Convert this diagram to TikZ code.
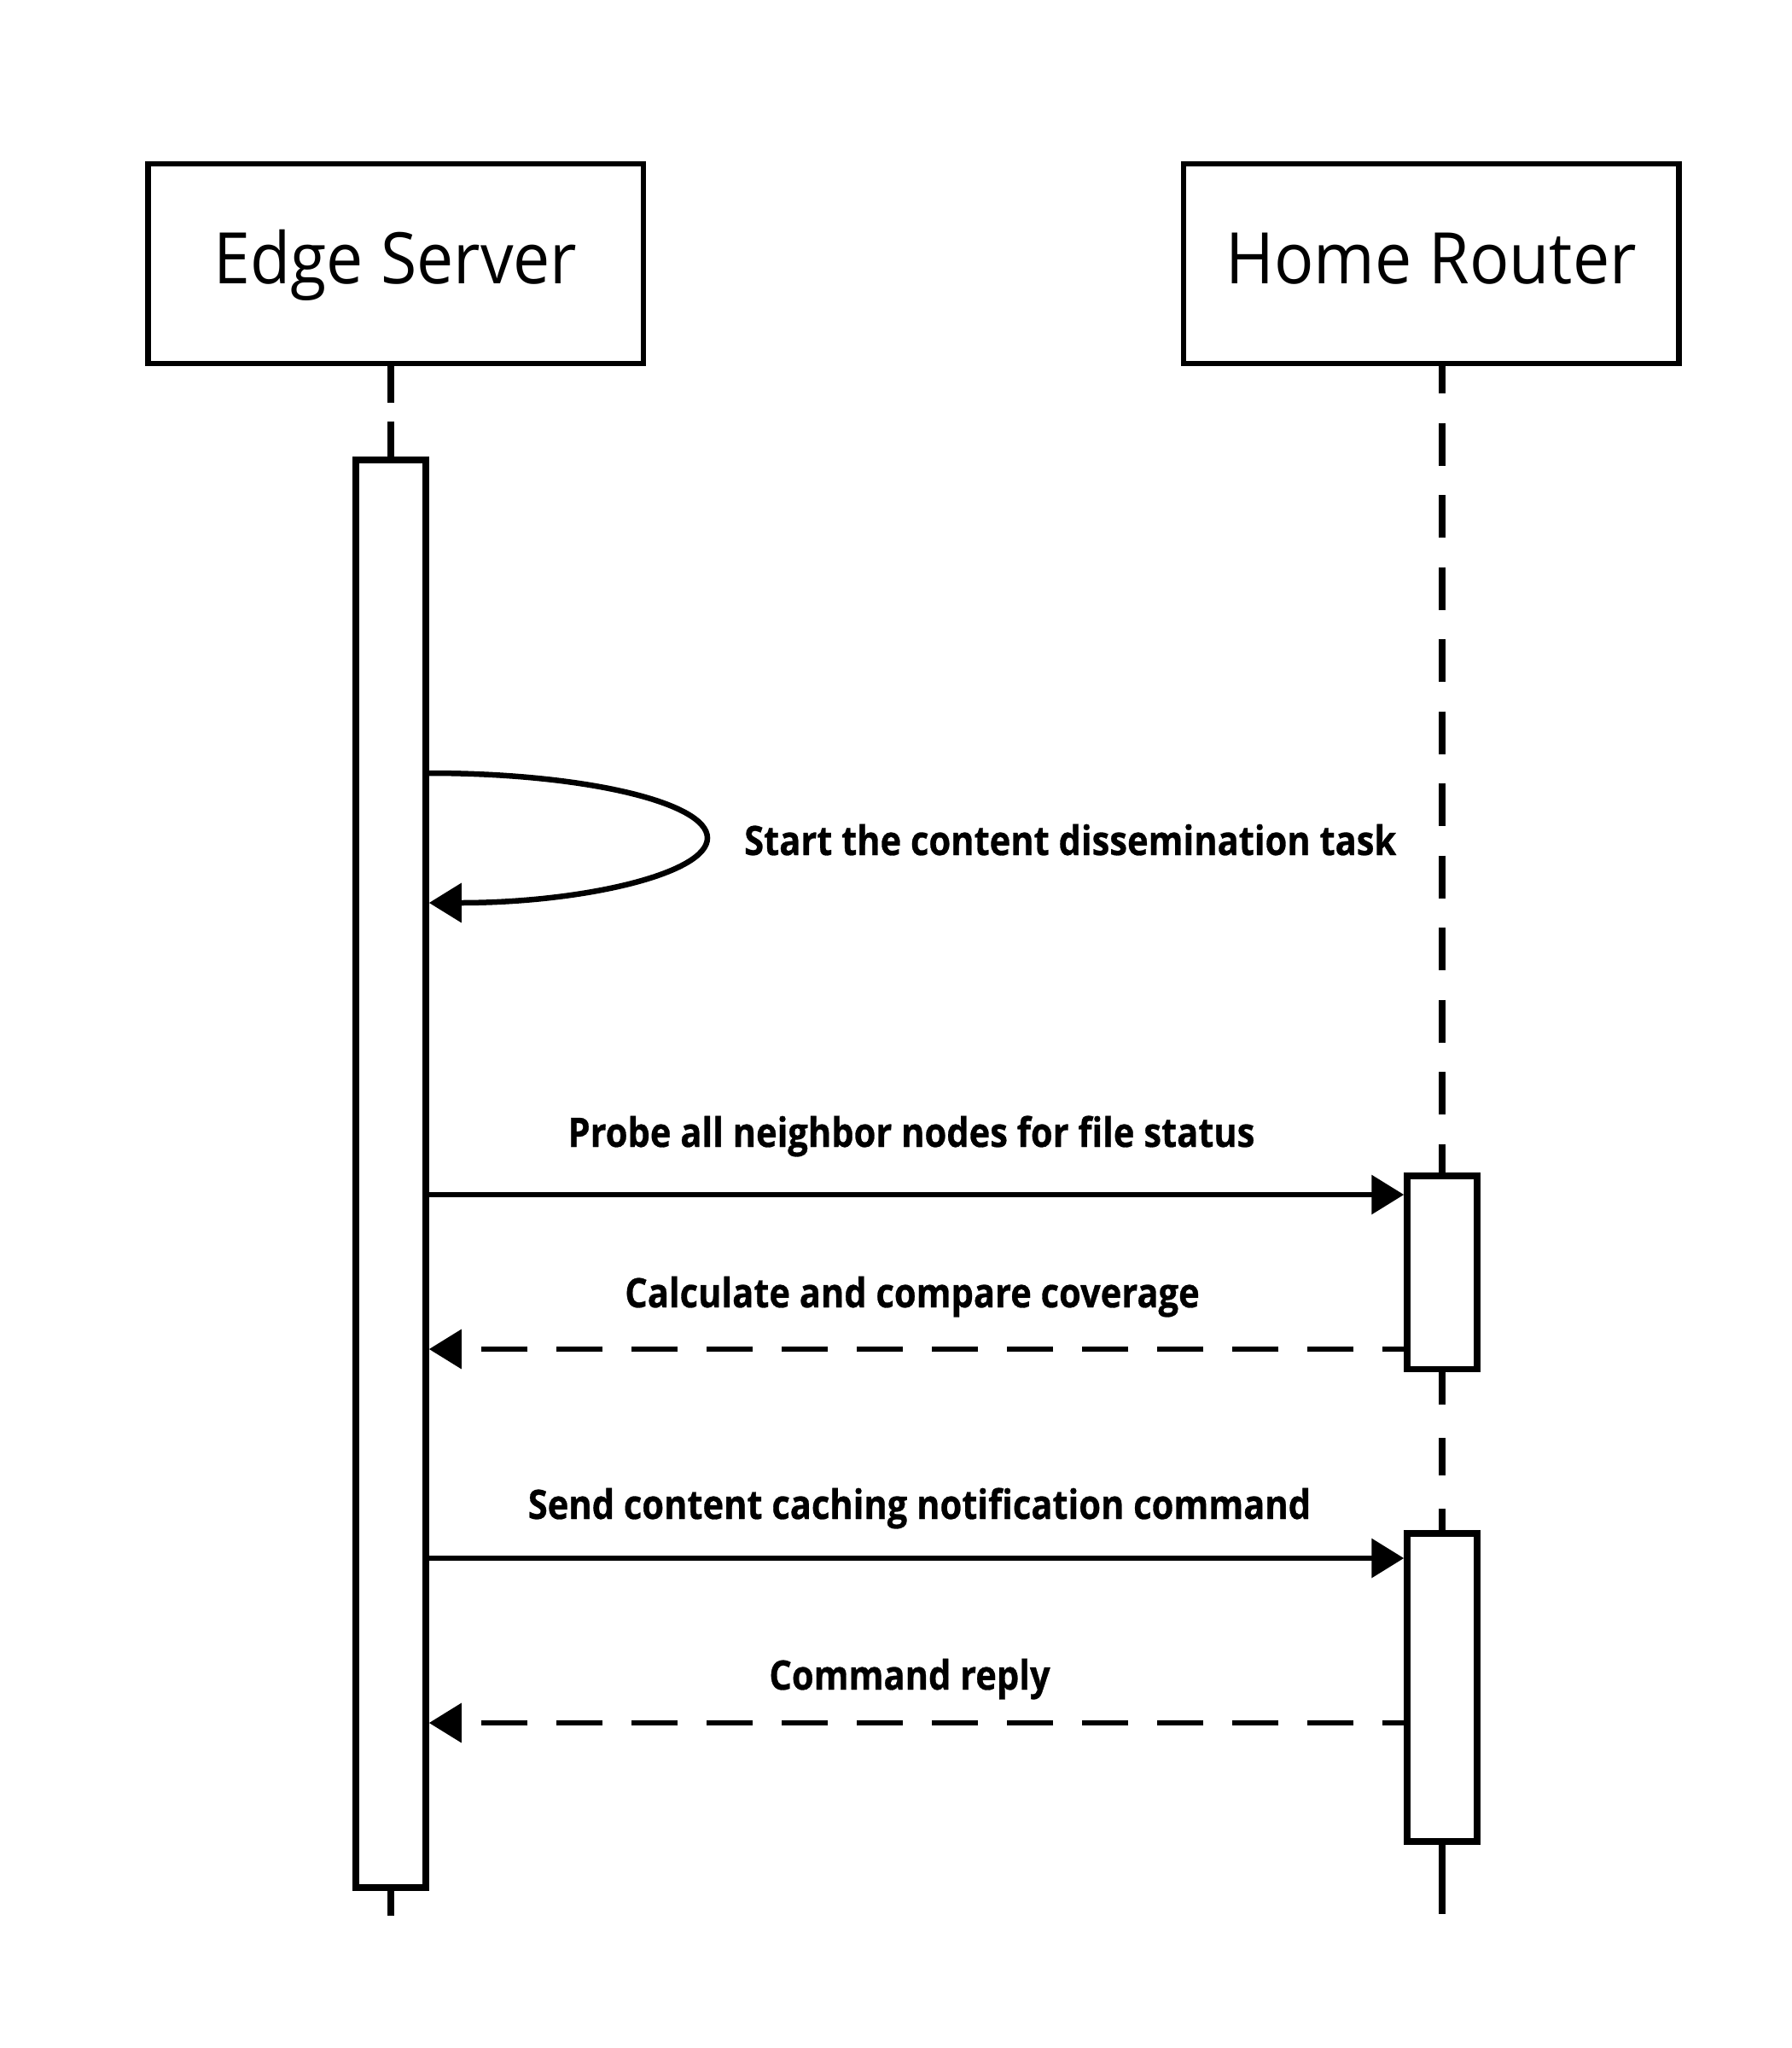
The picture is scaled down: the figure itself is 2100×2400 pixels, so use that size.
\documentclass[tikz,border=0pt]{standalone}
\usepackage{fontspec}
\setmainfont{Open Sans}[FakeStretch=0.925]
\newfontfamily\lblfont{Open Sans}[FakeStretch=0.875, BoldFeatures={FakeBold=0.6}]
\usetikzlibrary{arrows.meta}
\begin{document}
\begin{tikzpicture}[x=1pt,y=-1pt,
  headbox/.style={draw, line width=6.5pt, minimum width=580.5pt, minimum height=233.5pt, inner sep=0pt, text height=47pt, text depth=0pt, font=\fontsize{83.3}{100}\selectfont},
  actbox/.style={draw, fill=white, line width=7.5pt, minimum width=82pt, inner sep=0pt},
  life/.style={line width=7.5pt},
  msg/.style={line width=6.5pt, -{Triangle[length=38pt,width=45pt]}},
  reply/.style={msg, dash pattern=on 54pt off 34pt, dash phase=29pt},
  lbl/.style={font=\lblfont\fontsize{47.6}{57}\selectfont\bfseries, inner sep=0pt, anchor=base}]

\fill[white] (0,0) rectangle (2100,2400);
\useasboundingbox (0,0) rectangle (2100,2400);

% heads
\node[headbox] (eh) at (463.5,309) {Edge Server};
\node[headbox] (rh) at (1677,309) {Home Router};

% activation bars
\node[actbox, minimum height=1673pt] (ea) at (458,1375.5) {};
\node[actbox, minimum height=226.5pt] (ra1) at (1690,1491) {};
\node[actbox, minimum height=361pt] (ra2) at (1690,1977.25) {};

% lifelines
\coordinate (eend) at (458,2245);
\coordinate (rend) at (1690,2243);
\draw[life, dash pattern=on 43pt off 22pt] (eh.south -| ea) -- (ea.north);
\draw[life] (ea.south) -- (eend);
\draw[life, dash pattern=on 50pt off 34.5pt, dash phase=18pt] (rh.south -| ra1) -- (ra1.north);
\draw[life, dash pattern=on 44pt off 39pt, dash phase=6pt] (ra1.south) -- (ra2.north);
\draw[life] (ra2.south) -- (rend);

% self message
\coordinate (loop) at (829,982);
\draw[msg] (ea.east |- 0,906) .. controls +(180,0) and +(0,-42) .. (loop)
  .. controls +(0,42) and +(180,0) .. (ea.east |- 0,1058);
\node[lbl, anchor=base west] (l0) at (872,1002) {Start the content dissemination task};

% messages
\draw[msg] (ea.east |- 0,1400) -- (ra1.west |- 0,1400);
\node[lbl] (l1) at (1068,1344) {Probe all neighbor nodes for file status};

\draw[reply] (ra1.west |- 0,1581) -- (ea.east |- 0,1581);
\node[lbl] (l2) at (1069,1532) {Calculate and compare coverage};

\draw[msg] (ea.east |- 0,1826) -- (ra2.west |- 0,1826);
\node[lbl] (l3) at (1077.5,1780) {Send content caching notification command};

\draw[reply] (ra2.west |- 0,2019) -- (ea.east |- 0,2019);
\node[lbl] (l4) at (1066,1980) {Command reply};
\end{tikzpicture}
\end{document}
